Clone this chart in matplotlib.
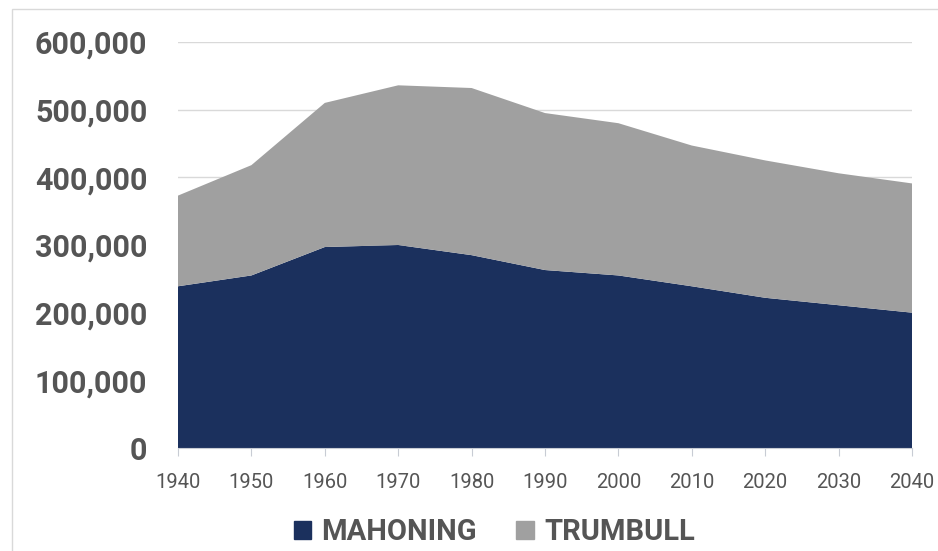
import numpy as np
import matplotlib
matplotlib.use("Agg")
import matplotlib.pyplot as plt
from matplotlib.patches import Rectangle, Patch
from matplotlib.ticker import FuncFormatter

years = [1940, 1950, 1960, 1970, 1980, 1990, 2000, 2010, 2020, 2030, 2040]
mahoning = [239000, 255000, 297000, 300000, 285000, 263000, 255000, 239000, 222000, 211000, 200000]
total = [373000, 418000, 510000, 536000, 532000, 495000, 480000, 447000, 425000, 406000, 391000]
trumbull = [t - m for t, m in zip(total, mahoning)]
series_names = ["MAHONING", "TRUMBULL"]
colors = ["#1b305d", "#a0a0a0"]

plt.rcParams['font.family'] = ['Roboto', 'DejaVu Sans']

fig = plt.figure(figsize=(9.38, 5.51), dpi=100)
ax = fig.add_axes([178/938, 1 - 448/551, (912-178)/938, (448-42)/551])

ax.stackplot(years, mahoning, trumbull, colors=colors, linewidth=0)

ax.set_xlim(1940, 2040)
ax.set_ylim(0, 600000)
ax.set_xticks(years)
ax.set_yticks(np.arange(0, 600001, 100000))
ax.yaxis.set_major_formatter(FuncFormatter(lambda v, p: "{:,.0f}".format(v)))

ax.grid(axis="y", color="#d9d9d9", linewidth=1)
ax.set_axisbelow(True)
for s in ["top", "right", "left"]:
    ax.spines[s].set_visible(False)
ax.spines["bottom"].set_color("#c8ccd4")

ax.tick_params(axis="y", length=0, pad=22, labelsize=22, labelcolor="#555555")
ax.tick_params(axis="x", length=6, color="#c8ccd4", pad=12, labelsize=14.5, labelcolor="#555555")
for lab in ax.get_yticklabels():
    lab.set_fontweight("bold")

# outer frame
fig.patches.append(Rectangle((12/938, -0.1), 1.2, (551-9)/551 + 0.1, transform=fig.transFigure,
                             fill=False, edgecolor="#d9d9d9", linewidth=1))

handles = [Patch(color=c) for c in colors]
fig.legend(handles, series_names, loc="center", bbox_to_anchor=(0.527, 0.034), ncol=2,
           frameon=False, handlelength=0.6, handleheight=0.6, handletextpad=0.35,
           columnspacing=1.35, borderpad=0.1, prop={"size": 21, "weight": "bold"},
           labelcolor="#555555")

fig.savefig("out.png", dpi=100)
